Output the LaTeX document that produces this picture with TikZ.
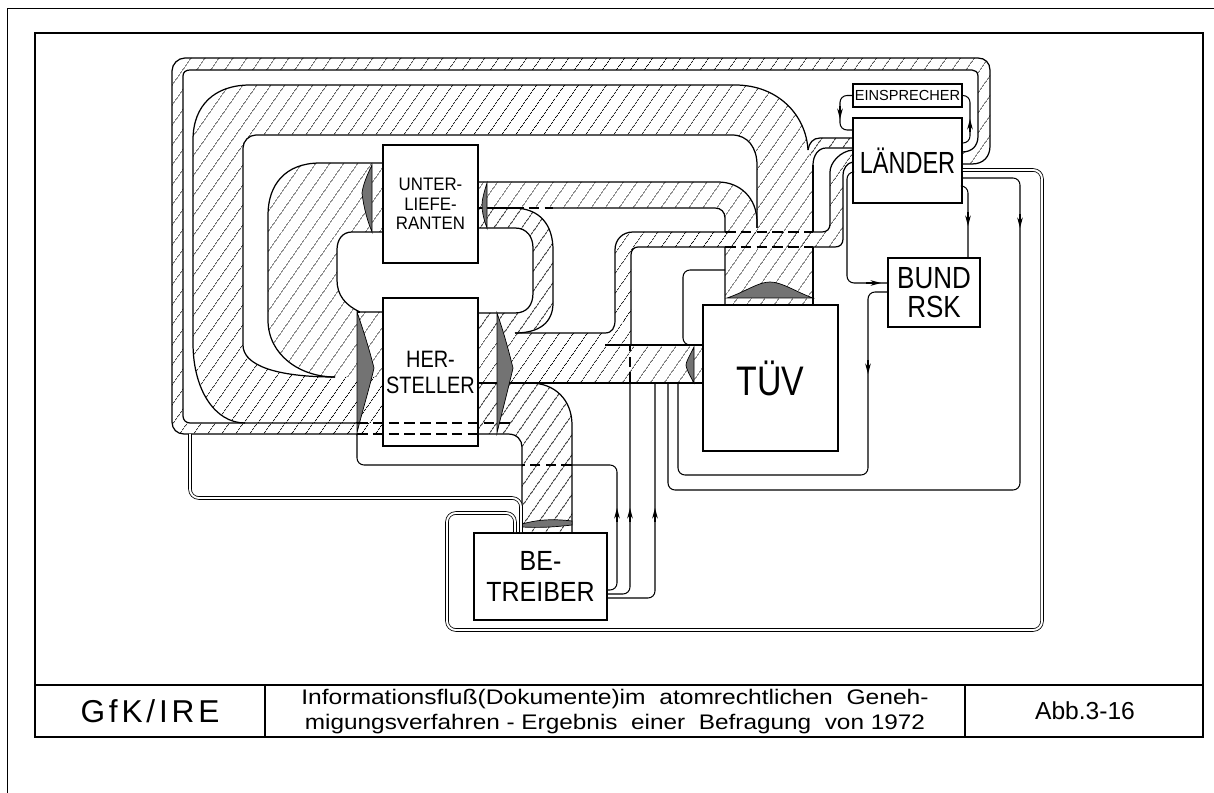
\documentclass[tikz,border=0pt]{standalone}
\usepackage{fontspec}
\usepackage{graphicx}
\setmainfont{Liberation Sans}
\usetikzlibrary{arrows.meta, patterns.meta}
\newcommand{\narrowtext}[2]{\scalebox{#1}[1]{#2}}
\tikzset{
  hatch/.style={pattern={Lines[angle=55,distance=6.5pt,line width=0.45pt]}},
  bandedge/.style={line width=0.7pt},
  hidden/.style={line width=0.6pt, dash pattern=on 6pt off 3pt},
  lens/.style={fill=black!55, draw=black, line width=0.4pt},
  box/.style={draw, fill=white, line width=1.1pt, inner sep=0pt, align=center},
  wire/.style={line width=0.6pt, rounded corners=4pt},
  dwire/.style={double, double distance=1.1pt, line width=0.45pt, rounded corners=5pt},
  tip/.style={-{Stealth[length=6pt,width=3.2pt]}, line width=0.6pt}
}
\begin{document}
\begin{tikzpicture}[x=0.02cm, y=-0.02cm]
  \useasboundingbox (0,0) rectangle (1214,793);
  % frame and title block
  \draw[line width=0.5pt] (7,793) -- (7,8) -- (1214,8);
  \draw[line width=1.2pt] (35,33) rectangle (1203,737);
  \draw[line width=1.2pt] (35,685) -- (1203,685);
  \draw[line width=1.2pt] (265,685) -- (265,737) (965,685) -- (965,737);
  \node[font=\fontsize{18}{20}\selectfont\addfontfeatures{LetterSpace=12}] (gfk) at (150,711) {GfK/IRE};
  \node[align=center, font=\fontsize{12}{14.2}\selectfont] (caption) at (615,712)
    {\resizebox{357pt}{\height}{Informationsfluß(Dokumente)im\ \ atomrechtlichen\ \ Geneh-}\\
     \resizebox{353pt}{\height}{migungsverfahren - Ergebnis\ \ einer\ \ Befragung\ \ von 1972}};
  \node[font=\fontsize{14}{16}\selectfont] (abb) at (1085,711) {Abb.3-16};

  % hatched bands
  \path[hatch] (962,164) -- (972,164) .. controls (984,164) and (990,156) .. (990,146) -- (990,70) .. controls (990,63) and (985,58) .. (978,58) -- (185,58) .. controls (178,58) and (172,64) .. (172,71) -- (172,422) .. controls (172,429) and (177,434) .. (184,434) -- (383,434) -- (383,423) -- (190,423) .. controls (186,423) and (183,420) .. (183,416) -- (183,76) .. controls (183,72) and (186,70) .. (190,70) -- (972,70) .. controls (975,70) and (978,72) .. (978,76) -- (978,136) .. controls (978,146) and (972,152) .. (962,152) -- cycle;
  \path[hatch] (383,423) -- (245,423) .. controls (215,423) and (193,390) .. (193,343) -- (193,140) .. controls (193,105) and (215,85) .. (250,85) -- (735,85) .. controls (778,85) and (806,115) .. (808,150) -- (813,165) -- (813,305) -- (757,305) -- (757,165) .. controls (757,148) and (748,135) .. (732,135) -- (256,135) .. controls (249,135) and (243,141) .. (243,148) -- (243,345) .. controls (243,365) and (275,377) .. (335,377) -- (383,377) -- cycle;
  \path[hatch] (383,163) -- (320,163) .. controls (285,163) and (268,185) .. (268,215) -- (268,320) .. controls (268,355) and (300,377) .. (335,377) -- (383,377) -- (383,312) -- (360,312) .. controls (345,305) and (337,295) .. (337,280) -- (337,250) .. controls (337,240) and (342,232) .. (352,232) -- (383,232) -- cycle;
  \path[hatch] (477,182) -- (718,182) .. controls (740,182) and (757,198) .. (757,222) -- (757,305) -- (725,305) -- (725,218) .. controls (725,212) and (721,208) .. (715,208) -- (477,208) -- cycle;
  \path[hatch] (477,208) -- (515,208) .. controls (540,208) and (553,225) .. (553,250) -- (553,303) .. controls (553,322) and (540,333) .. (515,333) -- (477,333) -- (477,313) -- (515,313) .. controls (527,313) and (533,305) .. (533,293) -- (533,248) .. controls (533,237) and (527,228) .. (515,228) -- (477,228) -- cycle;
  \path[hatch] (477,333) -- (605,333) .. controls (612,333) and (615,328) .. (615,320) -- (631,320) -- (631,345) -- (703,345) -- (703,383) -- (477,383) -- cycle;
  \path[hatch] (615,321) -- (615,250) .. controls (615,240) and (622,232) .. (633,232) -- (822,232) .. controls (827,232) and (830,229) .. (830,224) -- (830,172) .. controls (830,163) and (840,151) .. (853,150) -- (853,162) .. controls (847,163) and (843,168) .. (843,176) -- (843,239) .. controls (843,244) and (840,247) .. (835,247) -- (638,247) .. controls (634,247) and (631,250) .. (631,255) -- (631,321) -- cycle;
  \path[hatch] (853,138) -- (820,138) .. controls (813,138) and (809,143) .. (808,150) -- (813,165) .. controls (814,156) and (818,148) .. (826,148) -- (853,148) -- cycle;
  \path[hatch] (477,383) -- (530,383) .. controls (555,383) and (572,400) .. (572,425) -- (572,533) -- (522,533) -- (522,447) .. controls (522,440) and (517,434) .. (508,434) -- (477,434) -- cycle;

  % band outlines
  \draw[bandedge] (962,164) -- (972,164) .. controls (984,164) and (990,156) .. (990,146) -- (990,70) .. controls (990,63) and (985,58) .. (978,58) -- (185,58) .. controls (178,58) and (172,64) .. (172,71) -- (172,422) .. controls (172,429) and (177,434) .. (184,434) -- (357,434);
  \draw[bandedge] (962,152) .. controls (972,152) and (978,146) .. (978,136) -- (978,76) .. controls (978,72) and (975,70) .. (972,70) -- (190,70) .. controls (186,70) and (183,72) .. (183,76) -- (183,416) .. controls (183,420) and (186,423) .. (190,423) -- (357,423);
  \draw[bandedge] (245,423) .. controls (215,423) and (193,390) .. (193,343) -- (193,140) .. controls (193,105) and (215,85) .. (250,85) -- (735,85) .. controls (778,85) and (806,115) .. (808,150);
  \draw[bandedge] (813,165) -- (813,232) (813,247) -- (813,305);
  \draw[bandedge] (757,228) -- (757,165) .. controls (757,148) and (748,135) .. (732,135) -- (256,135) .. controls (249,135) and (243,141) .. (243,148) -- (243,345) .. controls (243,365) and (275,377) .. (335,377);
  \draw[bandedge] (383,163) -- (320,163) .. controls (285,163) and (268,185) .. (268,215) -- (268,320) .. controls (268,355) and (300,377) .. (335,377);
  \draw[bandedge] (383,232) -- (352,232) .. controls (342,232) and (337,240) .. (337,250) -- (337,280) .. controls (337,295) and (345,305) .. (360,312) -- (383,312);
  \draw[bandedge] (478,182) -- (718,182) .. controls (740,182) and (757,198) .. (757,222) -- (757,228);
  \draw[bandedge] (478,208) -- (513,208);
  \draw[hidden] (513,208) -- (553,208);
  \draw[bandedge] (553,208) -- (715,208) .. controls (721,208) and (725,212) .. (725,218) -- (725,232) (725,247) -- (725,305);
  \draw[bandedge] (513,208) .. controls (540,208) and (553,225) .. (553,250) -- (553,303) .. controls (553,322) and (540,333) .. (515,333);
  \draw[bandedge] (478,228) -- (515,228) .. controls (527,228) and (533,237) .. (533,248) -- (533,293) .. controls (533,305) and (527,313) .. (515,313) -- (478,313);
  \draw[bandedge] (515,333) -- (605,333) .. controls (612,333) and (615,328) .. (615,320) -- (615,250) .. controls (615,240) and (622,232) .. (633,232) -- (725,232);
  \draw[hidden] (725,232) -- (813,232) (725,247) -- (813,247);
  \draw[bandedge] (813,232) -- (822,232) .. controls (827,232) and (830,229) .. (830,224) -- (830,172) .. controls (830,163) and (840,151) .. (853,150);
  \draw[bandedge] (605,345) -- (703,345);
  \draw[bandedge] (631,345) -- (631,255) .. controls (631,250) and (634,247) .. (638,247) -- (725,247);
  \draw[bandedge] (813,247) -- (835,247) .. controls (840,247) and (843,244) .. (843,239) -- (843,176) .. controls (843,168) and (847,163) .. (853,162);
  \draw[bandedge] (478,383) -- (703,383);
  \draw[bandedge] (853,138) -- (820,138) .. controls (813,138) and (809,143) .. (808,150);
  \draw[bandedge] (853,148) -- (826,148) .. controls (818,148) and (813,156) .. (813,165);
  \draw[bandedge] (530,383) .. controls (555,383) and (572,400) .. (572,425) -- (572,533);
  \draw[bandedge] (478,434) -- (508,434) .. controls (517,434) and (522,440) .. (522,447) -- (522,533);
  \draw[bandedge] (357,312) -- (360,312);
  \draw[wire] (725,270) -- (683,270) -- (683,345) -- (694,345);

  % flow arrowheads
  \filldraw[lens] (372,165) .. controls (367,175) and (363,185) .. (362,193) .. controls (364,210) and (368,222) .. (372,232) -- cycle;
  \filldraw[lens] (487,183) .. controls (484,192) and (482,200) .. (482,205) .. controls (482,212) and (484,220) .. (487,228) -- cycle;
  \filldraw[lens] (357,312) .. controls (364,332) and (370,352) .. (374,368) .. controls (369,390) and (362,412) .. (357,433) -- cycle;
  \filldraw[lens] (497,313) .. controls (504,333) and (509,352) .. (513,368) .. controls (508,390) and (502,412) .. (497,433) -- cycle;
  \filldraw[lens] (727,298) .. controls (745,292) and (758,282) .. (770,282) .. controls (782,282) and (796,292) .. (813,298) -- cycle;
  \filldraw[lens] (694,347) .. controls (689,357) and (686,362) .. (686,365) .. controls (686,368) and (689,374) .. (694,383) -- cycle;
  \filldraw[lens] (522,524) .. controls (540,519) and (555,519) .. (572,521) -- (572,525) .. controls (555,527) and (540,528) .. (522,527) -- cycle;

  % boxes
  \node[box, minimum width=1.9cm, minimum height=2.36cm, font=\fontsize{10.3}{11.2}\selectfont] (unter) at (430.5,204) {\narrowtext{0.93}{UNTER-}\\\narrowtext{0.93}{LIEFE-}\\\narrowtext{0.93}{RANTEN}};
  \node[box, minimum width=1.9cm, minimum height=2.96cm, font=\fontsize{13.5}{14.8}\selectfont] (herst) at (430.5,372) {\narrowtext{0.84}{HER-}\\\narrowtext{0.84}{STELLER}};
  \node[box, minimum width=2.7cm, minimum height=2.92cm, font=\fontsize{23.5}{25}\selectfont] (tuev) at (770.5,378) {\narrowtext{0.82}{TÜV}};
  \node[box, minimum width=2.66cm, minimum height=1.74cm, font=\fontsize{15.8}{17.6}\selectfont] (betr) at (540.5,576.5) {\narrowtext{0.9}{BE-}\\\narrowtext{0.9}{TREIBER}};
  \node[box, minimum width=2.18cm, minimum height=1.7cm, font=\fontsize{17.4}{19}\selectfont] (laender) at (907.5,160.5) {\narrowtext{0.77}{LÄNDER}};
  \node[box, minimum width=2.18cm, minimum height=0.46cm, font=\fontsize{8.3}{9}\selectfont] (einspr) at (907.5,95.5) {EINSPRECHER};
  \node[box, minimum width=1.84cm, minimum height=1.38cm, font=\fontsize{17.4}{16.5}\selectfont] (bund) at (934,292.5) {\narrowtext{0.85}{BUND}\\\narrowtext{0.85}{RSK}};

  % thin band behind HERSTELLER
  \draw[hidden] (357,423) -- (513,423) (357,434) -- (478,434);

  % entry points into the TUEV band
  \coordinate (inA) at (668,383);
  \coordinate (inB) at (678,383);

  % single documents
  \draw[wire] (einspr.west) -- (840,95.5) -- (840,130) -- (laender.west |- 0,130);
  \draw[tip] (840,106) -- (840,119);
  \draw[wire] (laender.east |- 0,143) -- (970,143) -- (970,95.5) -- (einspr.east);
  \draw[tip] (970,132) -- (970,119);
  \draw[wire] (laender.east |- 0,186) -- (968,186) -- (bund.north -| 968,0);
  \draw[tip] (968,212) -- (968,226);
  \draw[wire] (laender.east |- 0,178) -- (1020,178) -- (1020,490) -- (668,490) -- (inA);
  \draw[tip] (1020,214) -- (1020,228);
  \draw[dwire] (laender.east |- 0,170) -- (1042,170) -- (1042,630) -- (447,630) -- (447,513) -- (515,513) -- (betr.north -| 515,0);
  \draw[dwire] (190,434) -- (190,498) -- (521,498) -- (betr.north -| 521,0);
  \draw[wire] (laender.west |- 0,172) -- (847,172) -- (847,283) -- (bund.west |- 0,283);
  \draw[tip] (866,283) -- (881,283);
  \draw[wire] (bund.west |- 0,292) -- (868,292) -- (868,475) -- (678,475) -- (inB);
  \draw[tip] (868,360) -- (868,374);
  \draw[wire] (betr.east |- 0,590) -- (617,590) -- (617,465) -- (572,465);
  \draw[hidden] (572,465) -- (522,465);
  \draw[wire] (522,465) -- (357,465) -- (357,434);
  \draw[tip] (617,522) -- (617,508);
  \draw[wire] (betr.east |- 0,594) -- (630,594) -- (630,383);
  \draw[hidden] (630,383) -- (630,345);
  \draw[tip] (630,522) -- (630,508);
  \draw[wire] (betr.east |- 0,598) -- (655,598) -- (655,383);
  \draw[tip] (655,522) -- (655,508);
\end{tikzpicture}
\end{document}
